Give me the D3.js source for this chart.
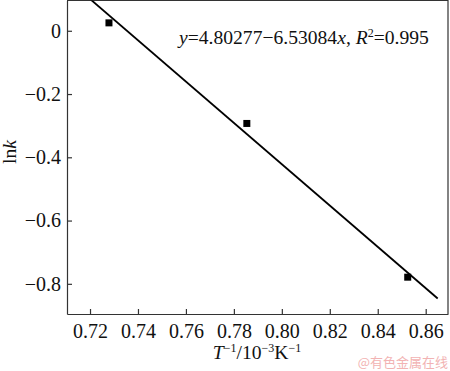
<!DOCTYPE html>
<html>
<head>
<meta charset="utf-8">
<script src="https://cdn.jsdelivr.net/npm/d3@7"></script>
<style>
  body { margin: 0; background: #fff; }
</style>
</head>
<body>
<div id="chart"></div>
<script>
// measured points (1/T in 10^-3 K^-1, ln k)
const invT = [0.7279, 0.7854, 0.8525];
const lnk = [0.025, -0.293, -0.779];
// linear fit y = a + b x
const fitA = 4.80277, fitB = -6.53084;
const fitRange = [0.72, 0.865];
const xTicks = [0.72, 0.74, 0.76, 0.78, 0.80, 0.82, 0.84, 0.86];
const yTicks = [0, -0.2, -0.4, -0.6, -0.8];

const serif = "'Liberation Serif', 'Times New Roman', 'DejaVu Serif', serif";

const margin = {top: 0.5, right: 2, bottom: 57, left: 67},
    width = 450 - margin.left - margin.right,
    height = 371 - margin.top - margin.bottom;

const x = d3.scaleLinear().domain([0.7104, 0.8693]).range([0, width]);
const y = d3.scaleLinear().domain([-0.8954, 0.0957]).range([height, 0]);

const svg = d3.select("#chart").append("svg")
    .attr("width", 450)
    .attr("height", 371)
    .style("font-family", serif)
  .append("g")
    .attr("transform", `translate(${margin.left},${margin.top})`);

svg.append("defs").append("clipPath").attr("id", "clip")
  .append("rect").attr("width", width).attr("height", height);

const fmtY = d => d === 0 ? "0" : d3.format(".1f")(d).replace("-", "\u2212");

svg.append("g")
    .attr("transform", `translate(0,${height})`)
    .call(d3.axisBottom(x).tickValues(xTicks).tickFormat(d3.format(".2f")).tickSizeInner(-5).tickSizeOuter(0).tickPadding(10))
    .call(g => g.selectAll("text").attr("font-size", 20).attr("fill", "#111").style("font-family", serif));

svg.append("g")
    .call(d3.axisLeft(y).tickValues(yTicks).tickFormat(fmtY).tickSizeInner(-5).tickSizeOuter(0).tickPadding(6))
    .call(g => g.selectAll("text").attr("font-size", 20).attr("fill", "#111").style("font-family", serif));

svg.selectAll(".domain, .tick line").attr("stroke", "#333").attr("stroke-width", 1.2);

// frame top/right
svg.append("path")
    .attr("d", `M0,0H${width}V${height}`)
    .attr("fill", "none").attr("stroke", "#333").attr("stroke-width", 1.2);

// fit line
svg.append("line")
    .attr("clip-path", "url(#clip)")
    .attr("x1", x(fitRange[0])).attr("y1", y(fitA + fitB * fitRange[0]))
    .attr("x2", x(fitRange[1])).attr("y2", y(fitA + fitB * fitRange[1]))
    .attr("stroke", "#000").attr("stroke-width", 1.8);

svg.selectAll(".pt")
  .data(invT)
  .enter().append("rect")
    .attr("class", "pt")
    .attr("x", (d, i) => x(d) - 3.5)
    .attr("y", (d, i) => y(lnk[i]) - 3.5)
    .attr("width", 7).attr("height", 7)
    .attr("fill", "#000");

// equation
const eq = svg.append("text").attr("x", 179 - margin.left).attr("y", 43)
    .attr("font-size", 19.6).attr("fill", "#111").style("font-family", serif);
eq.append("tspan").attr("font-style", "italic").text("y");
eq.append("tspan").text("=4.80277\u22126.53084");
eq.append("tspan").attr("font-style", "italic").text("x");
eq.append("tspan").text(", ");
eq.append("tspan").attr("font-style", "italic").text("R");
eq.append("tspan").attr("font-size", 12).attr("dy", -7).text("2");
eq.append("tspan").attr("dy", 7).text("=0.995");

// axis titles
const xt = svg.append("text").attr("x", 257 - margin.left).attr("y", 359 - margin.top)
    .attr("text-anchor", "middle").attr("font-size", 19.6).attr("fill", "#111").style("font-family", serif);
xt.append("tspan").attr("font-style", "italic").text("T");
xt.append("tspan").attr("font-size", 12).attr("dy", -7).text("\u22121");
xt.append("tspan").attr("dy", 7).text("/10");
xt.append("tspan").attr("font-size", 12).attr("dy", -7).text("\u22123");
xt.append("tspan").attr("dy", 7).text("K");
xt.append("tspan").attr("font-size", 12).attr("dy", -7).text("\u22121");

const yt = svg.append("text")
    .attr("transform", `translate(${16 - margin.left},${152 - margin.top}) rotate(-90)`)
    .attr("text-anchor", "middle").attr("font-size", 19.6).attr("fill", "#111").style("font-family", serif);
yt.append("tspan").text("ln");
yt.append("tspan").attr("font-style", "italic").text("k");

// watermark
svg.append("text").attr("x", 448 - margin.left).attr("y", 367 - margin.top)
    .attr("text-anchor", "end").attr("font-size", 13).attr("fill", "#f2b3b3")
    .style("font-family", "'Noto Sans CJK SC', sans-serif")
    .text("@有色金属在线");
</script>
</body>
</html>
